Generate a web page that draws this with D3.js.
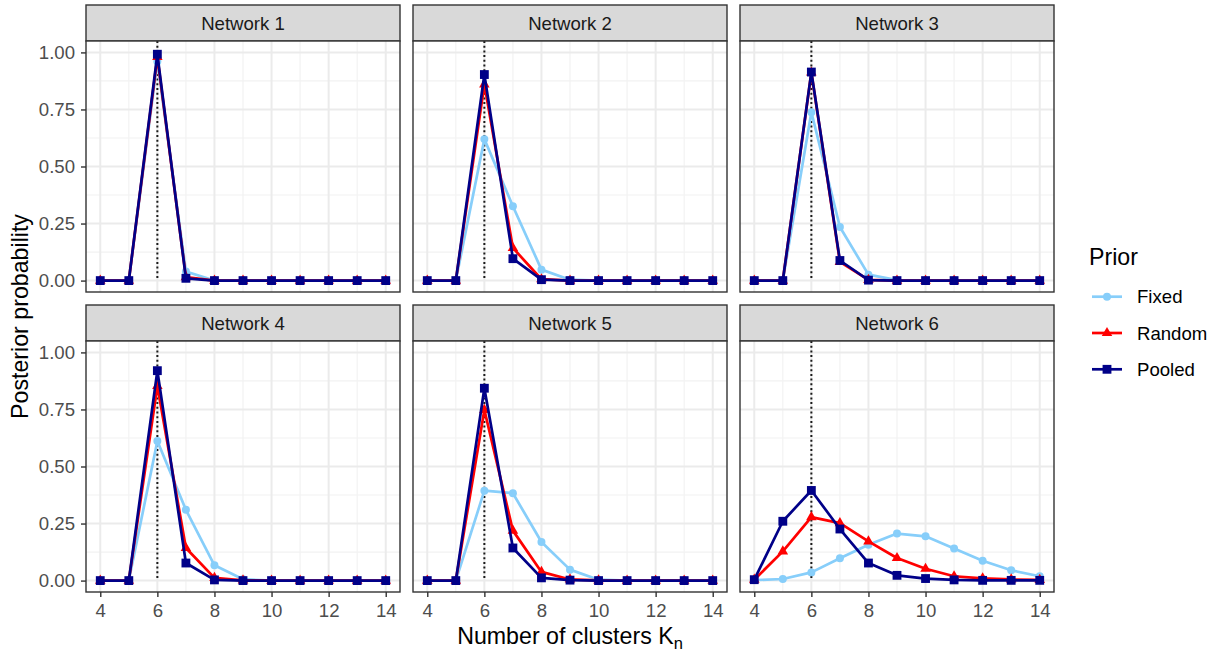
<!DOCTYPE html>
<html><head><meta charset="utf-8">
<script src="https://cdn.jsdelivr.net/npm/d3@7"></script>
<style>body{margin:0;background:#fff;} text{font-family:"Liberation Sans",Arial,sans-serif;}</style>
</head><body><svg id="c" width="1221" height="652"></svg>
<script>
const clusters = [4,5,6,7,8,9,10,11,12,13,14];
const networks = ["Network 1","Network 2","Network 3","Network 4","Network 5","Network 6"];
const priors = ["Fixed","Random","Pooled"];
const priorColors = ["#87CEFA","#FF0000","#000088"];
const yTicks = [0,0.25,0.5,0.75,1];
const xTicks = [4,6,8,10,12,14];
const trueK = 6;

const fixedVals = [
  [0,0,0.96,0.04,0,0,0,0,0,0,0],
  [0,0,0.62,0.326,0.048,0.004,0,0,0,0,0],
  [0,0,0.738,0.235,0.026,0.002,0,0,0,0,0],
  [0,0,0.612,0.31,0.067,0.006,0,0,0,0,0],
  [0,0,0.394,0.383,0.169,0.048,0.004,0,0,0,0],
  [0.002,0.007,0.036,0.098,0.157,0.206,0.194,0.141,0.087,0.045,0.019]
];
const randomVals = [
  [0,0,0.98,0.015,0,0,0,0,0,0,0],
  [0,0,0.86,0.143,0.006,0,0,0,0,0,0],
  [0,0,0.912,0.082,0.003,0,0,0,0,0,0],
  [0,0,0.853,0.143,0.012,0.001,0,0,0,0,0],
  [0,0,0.748,0.219,0.038,0.005,0.001,0,0,0,0],
  [0.004,0.128,0.278,0.252,0.172,0.099,0.052,0.019,0.01,0.005,0.003]
];
const pooledVals = [
  [0,0,0.992,0.01,0,0,0,0,0,0,0],
  [0,0,0.903,0.096,0.004,0,0,0,0,0,0],
  [0,0,0.914,0.088,0.002,0,0,0,0,0,0],
  [0,0,0.92,0.077,0.003,0,0,0,0,0,0],
  [0,0,0.843,0.143,0.012,0.002,0,0,0,0,0],
  [0.004,0.26,0.395,0.226,0.077,0.023,0.009,0.003,0.001,0.001,0.001]
];
const seriesVals = [fixedVals, randomVals, pooledVals];

const svg = d3.select("#c");
const FONT = "Liberation Sans, Arial, sans-serif";
const FS = 18.6, FT = 23.2;
const panelW = 314, plotH = 251, stripH = 36;
const colX = [86, 413, 740];
const rowY = [5, 305];

const x = d3.scaleLinear().domain([3.5,14.5]).range([0,panelW]);
const y = d3.scaleLinear().domain([-0.05,1.05]).range([plotH,0]);

const shapes = [d3.symbolCircle, d3.symbolTriangle, d3.symbolSquare];
const shapeSize = [50, 48, 78];
const LW = 2.7;

networks.forEach((name,i)=>{
  const r = Math.floor(i/3), c = i%3;
  const g = svg.append("g").attr("transform",`translate(${colX[c]},${rowY[r]})`);
  // strip
  g.append("rect").attr("x",0).attr("y",0).attr("width",panelW).attr("height",stripH)
    .attr("fill","#D9D9D9").attr("stroke","#333333").attr("stroke-width",1.4);
  g.append("text").attr("x",panelW/2).attr("y",stripH/2+6.6).attr("text-anchor","middle")
    .attr("font-size",FS).attr("fill","#1A1A1A").text(name);
  const p = g.append("g").attr("transform",`translate(0,${stripH})`);
  p.append("rect").attr("width",panelW).attr("height",plotH).attr("fill","#fff");
  // minor grid
  const minorY = [0.125,0.375,0.625,0.875];
  minorY.forEach(v=>p.append("line").attr("x1",0).attr("x2",panelW).attr("y1",y(v)).attr("y2",y(v)).attr("stroke","#F2F2F2").attr("stroke-width",1.2));
  [5,7,9,11,13].forEach(v=>p.append("line").attr("y1",0).attr("y2",plotH).attr("x1",x(v)).attr("x2",x(v)).attr("stroke","#F2F2F2").attr("stroke-width",1.2));
  yTicks.forEach(v=>p.append("line").attr("x1",0).attr("x2",panelW).attr("y1",y(v)).attr("y2",y(v)).attr("stroke","#EBEBEB").attr("stroke-width",2));
  xTicks.forEach(v=>p.append("line").attr("y1",0).attr("y2",plotH).attr("x1",x(v)).attr("x2",x(v)).attr("stroke","#EBEBEB").attr("stroke-width",2));
  // dotted true K
  p.append("line").attr("x1",x(trueK)).attr("x2",x(trueK)).attr("y1",0).attr("y2",y(0))
    .attr("stroke","#1A1A1A").attr("stroke-width",2).attr("stroke-dasharray","2,2.7");
  // series
  seriesVals.forEach((sv,k)=>{
    const data = clusters.map((kk,j)=>[kk,sv[i][j]]);
    p.append("path").datum(data).attr("fill","none").attr("stroke",priorColors[k]).attr("stroke-width",LW)
      .attr("stroke-linejoin","round")
      .attr("d",d3.line().x(d=>x(d[0])).y(d=>y(d[1])));
    p.selectAll(null).data(data).enter().append("path")
      .attr("transform",d=>`translate(${x(d[0])},${y(d[1])})`)
      .attr("d",d3.symbol().type(shapes[k]).size(shapeSize[k])).attr("fill",priorColors[k]);
  });
  p.append("rect").attr("width",panelW).attr("height",plotH).attr("fill","none").attr("stroke","#333333").attr("stroke-width",1.4);
  // axes
  if(c===0){
    const ya = p.append("g").call(d3.axisLeft(y).tickValues(yTicks).tickFormat(d3.format(".2f")).tickSize(5).tickPadding(6));
    ya.select(".domain").remove();
    ya.selectAll("line").attr("stroke","#333333").attr("stroke-width",1.4);
    ya.selectAll("text").attr("font-size",FS).attr("fill","#4D4D4D").attr("font-family",FONT);
  }
  if(r===1){
    const xa = p.append("g").attr("transform",`translate(0,${plotH})`).call(d3.axisBottom(x).tickValues(xTicks).tickSize(5).tickPadding(7));
    xa.select(".domain").remove();
    xa.selectAll("line").attr("stroke","#333333").attr("stroke-width",1.4);
    xa.selectAll("text").attr("font-size",FS).attr("fill","#4D4D4D").attr("font-family",FONT);
  }
});

// axis titles
svg.append("text").attr("transform","translate(28,316.5) rotate(-90)").attr("text-anchor","middle")
  .attr("font-size",FT).attr("fill","#000").text("Posterior probability");
const xt = svg.append("text").attr("x",570).attr("y",644).attr("text-anchor","middle").attr("font-size",FT).attr("fill","#000");
xt.append("tspan").text("Number of clusters K");
xt.append("tspan").attr("font-size",16.5).attr("dy",5).text("n");

// legend
const lg = svg.append("g").attr("transform","translate(1089,0)");
lg.append("text").attr("x",0).attr("y",265).attr("font-size",FT).attr("fill","#000").text("Prior");
priors.forEach((pr,k)=>{
  const yy = 296.7 + k*36.3;
  lg.append("line").attr("x1",3).attr("x2",33).attr("y1",yy).attr("y2",yy).attr("stroke",priorColors[k]).attr("stroke-width",LW);
  lg.append("path").attr("transform",`translate(18,${yy})`).attr("d",d3.symbol().type(shapes[k]).size(shapeSize[k])).attr("fill",priorColors[k]);
  lg.append("text").attr("x",48).attr("y",yy+6.6).attr("font-size",FS).attr("fill","#000").text(pr);
});
</script></body></html>
